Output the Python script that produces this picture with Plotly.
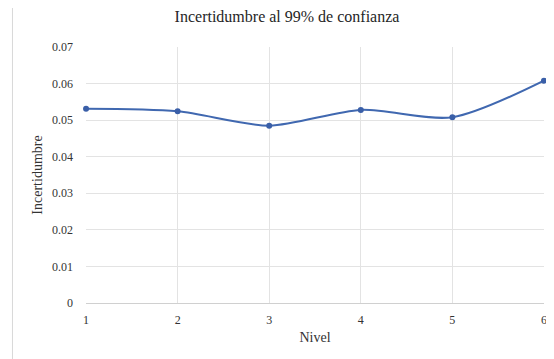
import plotly.graph_objects as go

niveles = [1, 2, 3, 4, 5, 6]
incertidumbre = [0.0531, 0.0524, 0.0485, 0.0528, 0.0508, 0.0608]
y_ticks = [0, 0.01, 0.02, 0.03, 0.04, 0.05, 0.06, 0.07]
y_tick_labels = ["0", "0.01", "0.02", "0.03", "0.04", "0.05", "0.06", "0.07"]

font = "Liberation Serif"

# the page adds an 8px body margin; compensate
W, H = 546, 351
L, T = 78, 39
R = W - (547 - 8)
B = H - (303 - 8)
plot_w = W - L - R
plot_h = H - T - B

fig = go.Figure()
fig.add_trace(go.Scatter(
    x=niveles, y=incertidumbre, mode="lines+markers",
    line=dict(color="#4068B0", width=2, shape="spline", smoothing=0.8),
    marker=dict(color="#3A5FA8", size=6),
    showlegend=False, hoverinfo="skip", cliponaxis=False,
))

fig.update_layout(
    width=W, height=H,
    margin=dict(l=L, r=R, t=T, b=B),
    paper_bgcolor="white", plot_bgcolor="white",
    font=dict(family=font, size=12, color="#333333"),
    title=dict(text="Incertidumbre al 99% de confianza", x=(287 - 8) / W, xref="container",
               xanchor="center", y=1 - 8 / H, yanchor="middle",
               font=dict(family=font, size=16, color="#262626")),
    xaxis=dict(
        range=[0.9995, 6.0005], tickvals=niveles, ticktext=[str(n) for n in niveles],
        showgrid=True, gridcolor="#E3E3E3", gridwidth=1,
        showline=True, linecolor="#D0D0D0", zeroline=False,
        ticks="", ticklabelstandoff=6,
        title=dict(text="Nivel", font=dict(family=font, size=14, color="#333333"), standoff=5),
    ),
    yaxis=dict(
        range=[0, 0.07], tickvals=y_ticks, ticktext=y_tick_labels,
        showgrid=True, gridcolor="#E3E3E3", gridwidth=1,
        showline=False, zeroline=False, ticks="", ticklabelstandoff=12,
        title=dict(text="Incertidumbre", font=dict(family=font, size=14, color="#333333"), standoff=6),
    ),
    shapes=[dict(type="line", xref="paper", yref="paper",
                 x0=(4 - L) / plot_w, x1=(4 - L) / plot_w, y0=-B / plot_h, y1=1 + T / plot_h,
                 line=dict(color="#D8D8D8", width=1))],
)

fig.write_html("out.html")
